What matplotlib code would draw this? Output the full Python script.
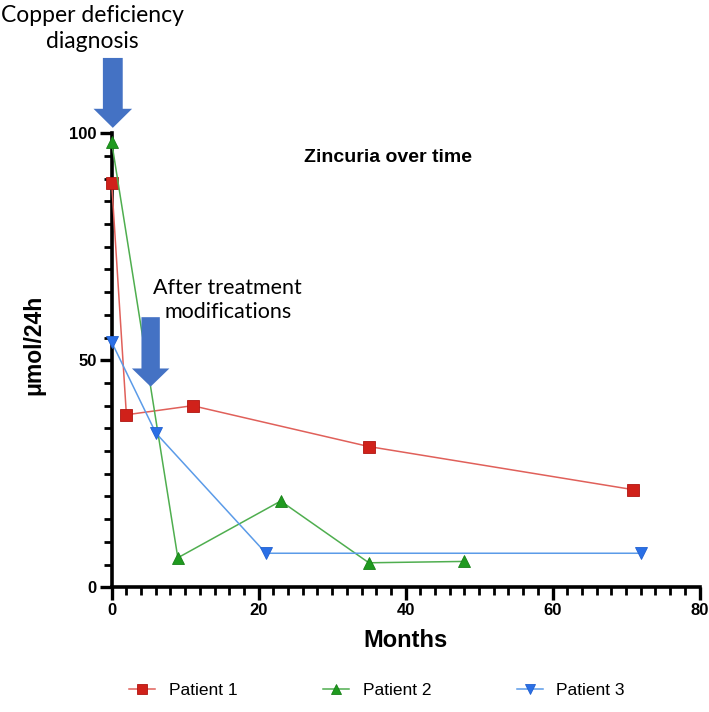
import matplotlib
matplotlib.use("Agg")
import matplotlib.pyplot as plt
from matplotlib.patches import FancyArrow
from matplotlib.ticker import MultipleLocator

# ---- data ----
p1_months = [0, 2, 11, 35, 71]
p1_values = [89, 38, 40, 31, 21.5]
p2_months = [0, 9, 23, 35, 48]
p2_values = [98, 6.5, 19, 5.4, 5.7]
p3_months = [0, 6, 21, 72]
p3_values = [54, 34, 7.5, 7.5]
series_names = ["Patient 1", "Patient 2", "Patient 3"]
x_ticks = [0, 20, 40, 60, 80]
y_ticks = [0, 50, 100]

W, H = 709, 712
fig = plt.figure(figsize=(W / 100, H / 100), dpi=100)
ax = fig.add_axes([111.7 / W, 1 - 587.3 / H, (699.5 - 111.7) / W, (587.3 - 133.3) / H])

red_line, red_mk = "#e0605a", "#d0211a"
green_line, green_mk = "#4fae4f", "#1f9a1f"
blue_line, blue_mk = "#5b9be8", "#2a6fe6"

ax.plot(p1_months, p1_values, color=red_line, lw=1.1, marker="s", ms=8,
        mfc=red_mk, mec="#b01510", mew=0.6, label=series_names[0], clip_on=False, zorder=3)
ax.plot(p2_months, p2_values, color=green_line, lw=1.1, marker="^", ms=8,
        mfc=green_mk, mec="#188018", mew=0.6, label=series_names[1], clip_on=False, zorder=3)
ax.plot(p3_months, p3_values, color=blue_line, lw=1.1, marker="v", ms=8,
        mfc=blue_mk, mec="#2060d0", mew=0.6, label=series_names[2], clip_on=False, zorder=3)

ax.set_xlim(0, 80)
ax.set_ylim(0, 100)
ax.set_xticks(x_ticks)
ax.set_yticks(y_ticks)
ax.xaxis.set_minor_locator(MultipleLocator(2))
ax.yaxis.set_minor_locator(MultipleLocator(5))
for s in ["top", "right"]:
    ax.spines[s].set_visible(False)
for s in ["left", "bottom"]:
    ax.spines[s].set_linewidth(2.6)
ax.tick_params(axis="both", which="major", length=9, width=2.4, direction="out", pad=2)
ax.tick_params(axis="both", which="minor", length=6, width=2.0, direction="out")
for lab in ax.get_xticklabels() + ax.get_yticklabels():
    lab.set_fontfamily("Liberation Sans")
    lab.set_fontweight("bold")
    lab.set_fontsize(12)

ax.set_xlabel("Months", fontsize=17, fontweight="bold", family="Liberation Sans", labelpad=8)
ax.set_ylabel("μmol/24h", fontsize=16.5, fontweight="bold", family="Liberation Sans")
ax.yaxis.set_label_coords(-0.112, 0.534)

ax.text(0.47, 0.947, "Zincuria over time", transform=ax.transAxes, ha="center", va="center",
        fontsize=14, fontweight="bold", family="Liberation Sans")

arrow_color = "#4472c4"
ax.add_patch(FancyArrow(0.15, 116.6, 0, -15.4, width=2.7, head_width=5.25, head_length=4.2,
                        length_includes_head=True, color=arrow_color, clip_on=False, zorder=4, lw=0))
ax.add_patch(FancyArrow(5.3, 59.5, 0, -15.3, width=2.5, head_width=5.1, head_length=4.0,
                        length_includes_head=True, color=arrow_color, clip_on=False, zorder=4, lw=0))

ax.text(-2.6, 123.0, "Copper deficiency\ndiagnosis", ha="center", va="center", fontsize=16.5,
        family="Lato", linespacing=1.3, clip_on=False)
ax.text(15.8, 63.3, "After treatment\nmodifications", ha="center", va="center", fontsize=15.5,
        family="Lato", linespacing=1.25, clip_on=False)

leg = fig.legend(loc="center", bbox_to_anchor=(0.532, 1 - 690 / H), ncol=3, frameon=False,
                 handlelength=1.5, columnspacing=4.9, handletextpad=0.8,
                 prop={"family": "Liberation Sans", "size": 12.5})
for h in leg.legend_handles:
    h.set_markersize(7)

fig.savefig("out.png", dpi=100)
